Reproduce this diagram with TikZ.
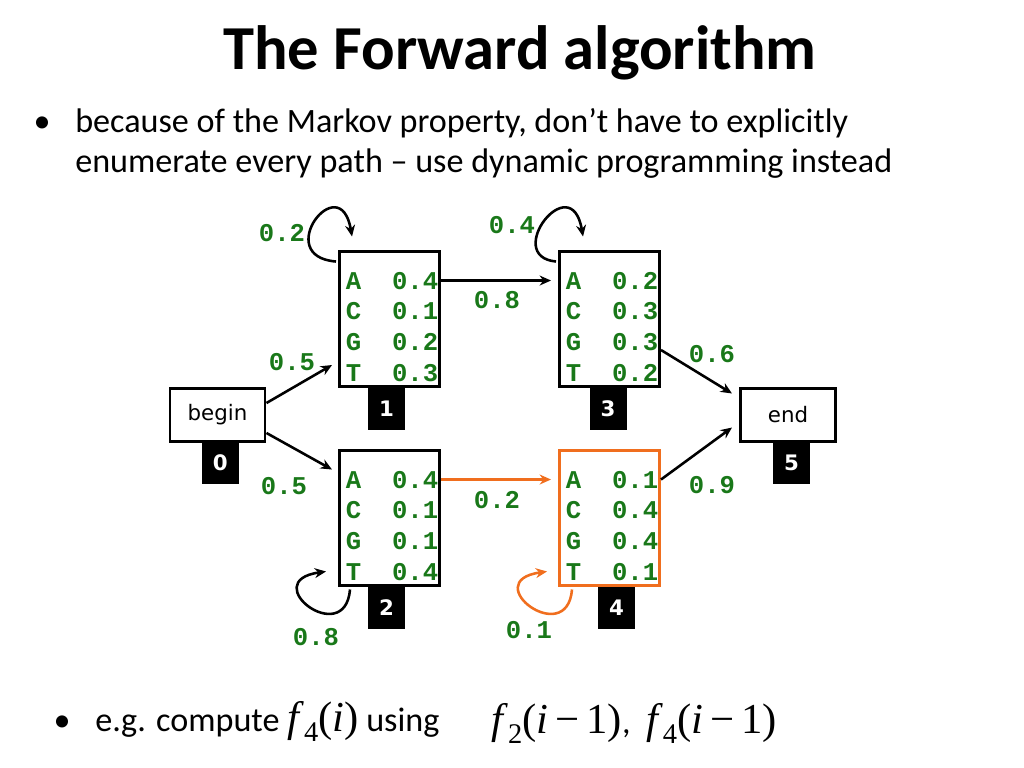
\documentclass[tikz,border=0pt]{standalone}
\usepackage{fontspec}
\setmainfont{Carlito}
\setmonofont{Liberation Mono}
\newfontfamily\verd{DejaVu Sans}
\newfontfamily\tms{Liberation Serif}
\usetikzlibrary{arrows.meta,positioning,calc}

\definecolor{emitgreen}{RGB}{25,120,25}
\definecolor{pathorange}{RGB}{240,110,30}

% emission table of one state
\newcommand{\emis}[4]{\hspace{3.6pt}\raisebox{-7pt}[\height][\depth]{%
  \begin{tabular}{@{}l@{\hspace{21.6pt}}l@{}}A & #1\\ C & #2\\ G & #3\\ T & #4\end{tabular}}}
% f_k(i...) set in Times
\newcommand{\fof}[3]{{\tms\fontsize{30}{32}\selectfont\textit{f}\raisebox{-0.25em}{\fontsize{20}{22}\selectfont #1}(\textit{#2}#3)}}

\begin{document}
\begin{tikzpicture}
[x=0.703125pt, y=-0.703125pt, line width=1.8pt, >={Stealth[length=8pt,width=7pt]},
state/.style={rectangle,draw=black,line width=2.1pt,minimum width=70.3pt,minimum height=95.6pt,inner sep=0pt,
  font=\ttfamily\bfseries\fontsize{18}{21.6}\selectfont,text=emitgreen},
endbox/.style={rectangle,draw=black,line width=2.1pt,minimum width=66.8pt,minimum height=36.6pt,
  font=\verd\fontsize{15}{17}\selectfont},
tag/.style={rectangle,fill=black,text=white,minimum width=26pt,minimum height=30pt,inner sep=0pt,
  font=\verd\bfseries\fontsize{15}{17}\selectfont},
prob/.style={font=\ttfamily\bfseries\fontsize{18}{21.6}\selectfont,text=emitgreen,inner sep=0pt},
txt/.style={inner sep=0pt,anchor=base west,font=\fontsize{24}{28.8}\selectfont}
]

\useasboundingbox (0,0) rectangle (1024,768);

% Title and bullets
\node[font=\bfseries\fontsize{44}{52}\selectfont,anchor=base,inner sep=0pt] (title) at (520,70) {The Forward algorithm};
\node[txt,anchor=base] (bul1) at (42,133) {•};
\node[txt] (line1) at (74,133) {because of the Markov property, don’t have to explicitly};
\node[txt] (line2) at (74,173) {enumerate every path – use dynamic programming instead};

% States
\node[endbox] (b0) at (217.5,415) {begin};
\node[state] (s1) at (389.5,319) {\emis{0.4}{0.1}{0.2}{0.3}};
\node[state] (s2) at (389.5,518) {\emis{0.4}{0.1}{0.1}{0.4}};
\node[state] (s3) at (609.5,319) {\emis{0.2}{0.3}{0.3}{0.2}};
\node[state,draw=pathorange] (s4) at (609.5,518) {\emis{0.1}{0.4}{0.4}{0.1}};
\node[endbox] (e5) at (788,415) {end};

% State numbers
\node[tag,below=-1.5pt of b0,xshift=2pt] (t0) {0};
\node[tag,below=-1.5pt of s1,xshift=-2pt] (t1) {1};
\node[tag,below=-1.5pt of s2,xshift=-2pt] (t2) {2};
\node[tag,below=-1.5pt of s3,xshift=-1pt] (t3) {3};
\node[tag,below=-1.5pt of s4,xshift=5pt] (t4) {4};
\node[tag,below=-1.5pt of e5,xshift=2.5pt] (t5) {5};

% Transitions
\draw[->] ($(b0.east)+(0,-12)$) -- ($(s1.west)+(-6,46)$);
\draw[->] ($(b0.east)+(0,18)$) -- ($(s2.north west)+(-6,21)$);
\draw[->] ($(s1.north east)+(0,31)$) -- ($(s3.north west)+(-7,31)$);
\draw[->,pathorange] ($(s2.north east)+(0,31)$) -- ($(s4.north west)+(-7,31)$);
\draw[->] ($(s3.east)+(0,31)$) -- ($(e5.north west)+(-7,6)$);
\draw[->] ($(s4.north east)+(0,31)$) -- ($(e5.south west)+(-7,-15)$);

% Self loops
\foreach \s/\dx in {s1/0,s3/11} {
  \draw[->] ($(\s.north west)+(-2,12)$) .. controls +(-65+\dx,-5) and +(-12,-70) .. ($(\s.north west)+(14+\dx,-13)$);
}
\draw[->] ($(s2.south west)+(12,2)$) .. controls +(-5,60) and +(-70,10) .. ($(s2.south west)+(-12,-16)$);
\draw[->,pathorange] ($(s4.south west)+(14,2)$) .. controls +(-5,60) and +(-70,10) .. ($(s4.south west)+(-11,-16)$);

% Transition probabilities
\node[prob] (p01) at (292,362) {0.5};
\node[prob] (p02) at (284,486) {0.5};
\node[prob] (p11) at (282,233) {0.2};
\node[prob] (p13) at (497,300) {0.8};
\node[prob] (p33) at (512,225) {0.4};
\node[prob] (p35) at (712,354) {0.6};
\node[prob] (p22) at (316,637) {0.8};
\node[prob] (p24) at (497,500) {0.2};
\node[prob] (p44) at (529,630) {0.1};
\node[prob] (p45) at (712,485) {0.9};

% Example
\node[txt,anchor=base] (bul2) at (62,731) {•};
\node[txt] (eg) at (94,731) {e.g. compute \fof{4}{i}{} using};
\node[txt] (deps) at (490,733) {\fof{2}{i}{\,−\,1}, \ \fof{4}{i}{\,−\,1}};
\end{tikzpicture}
\end{document}
